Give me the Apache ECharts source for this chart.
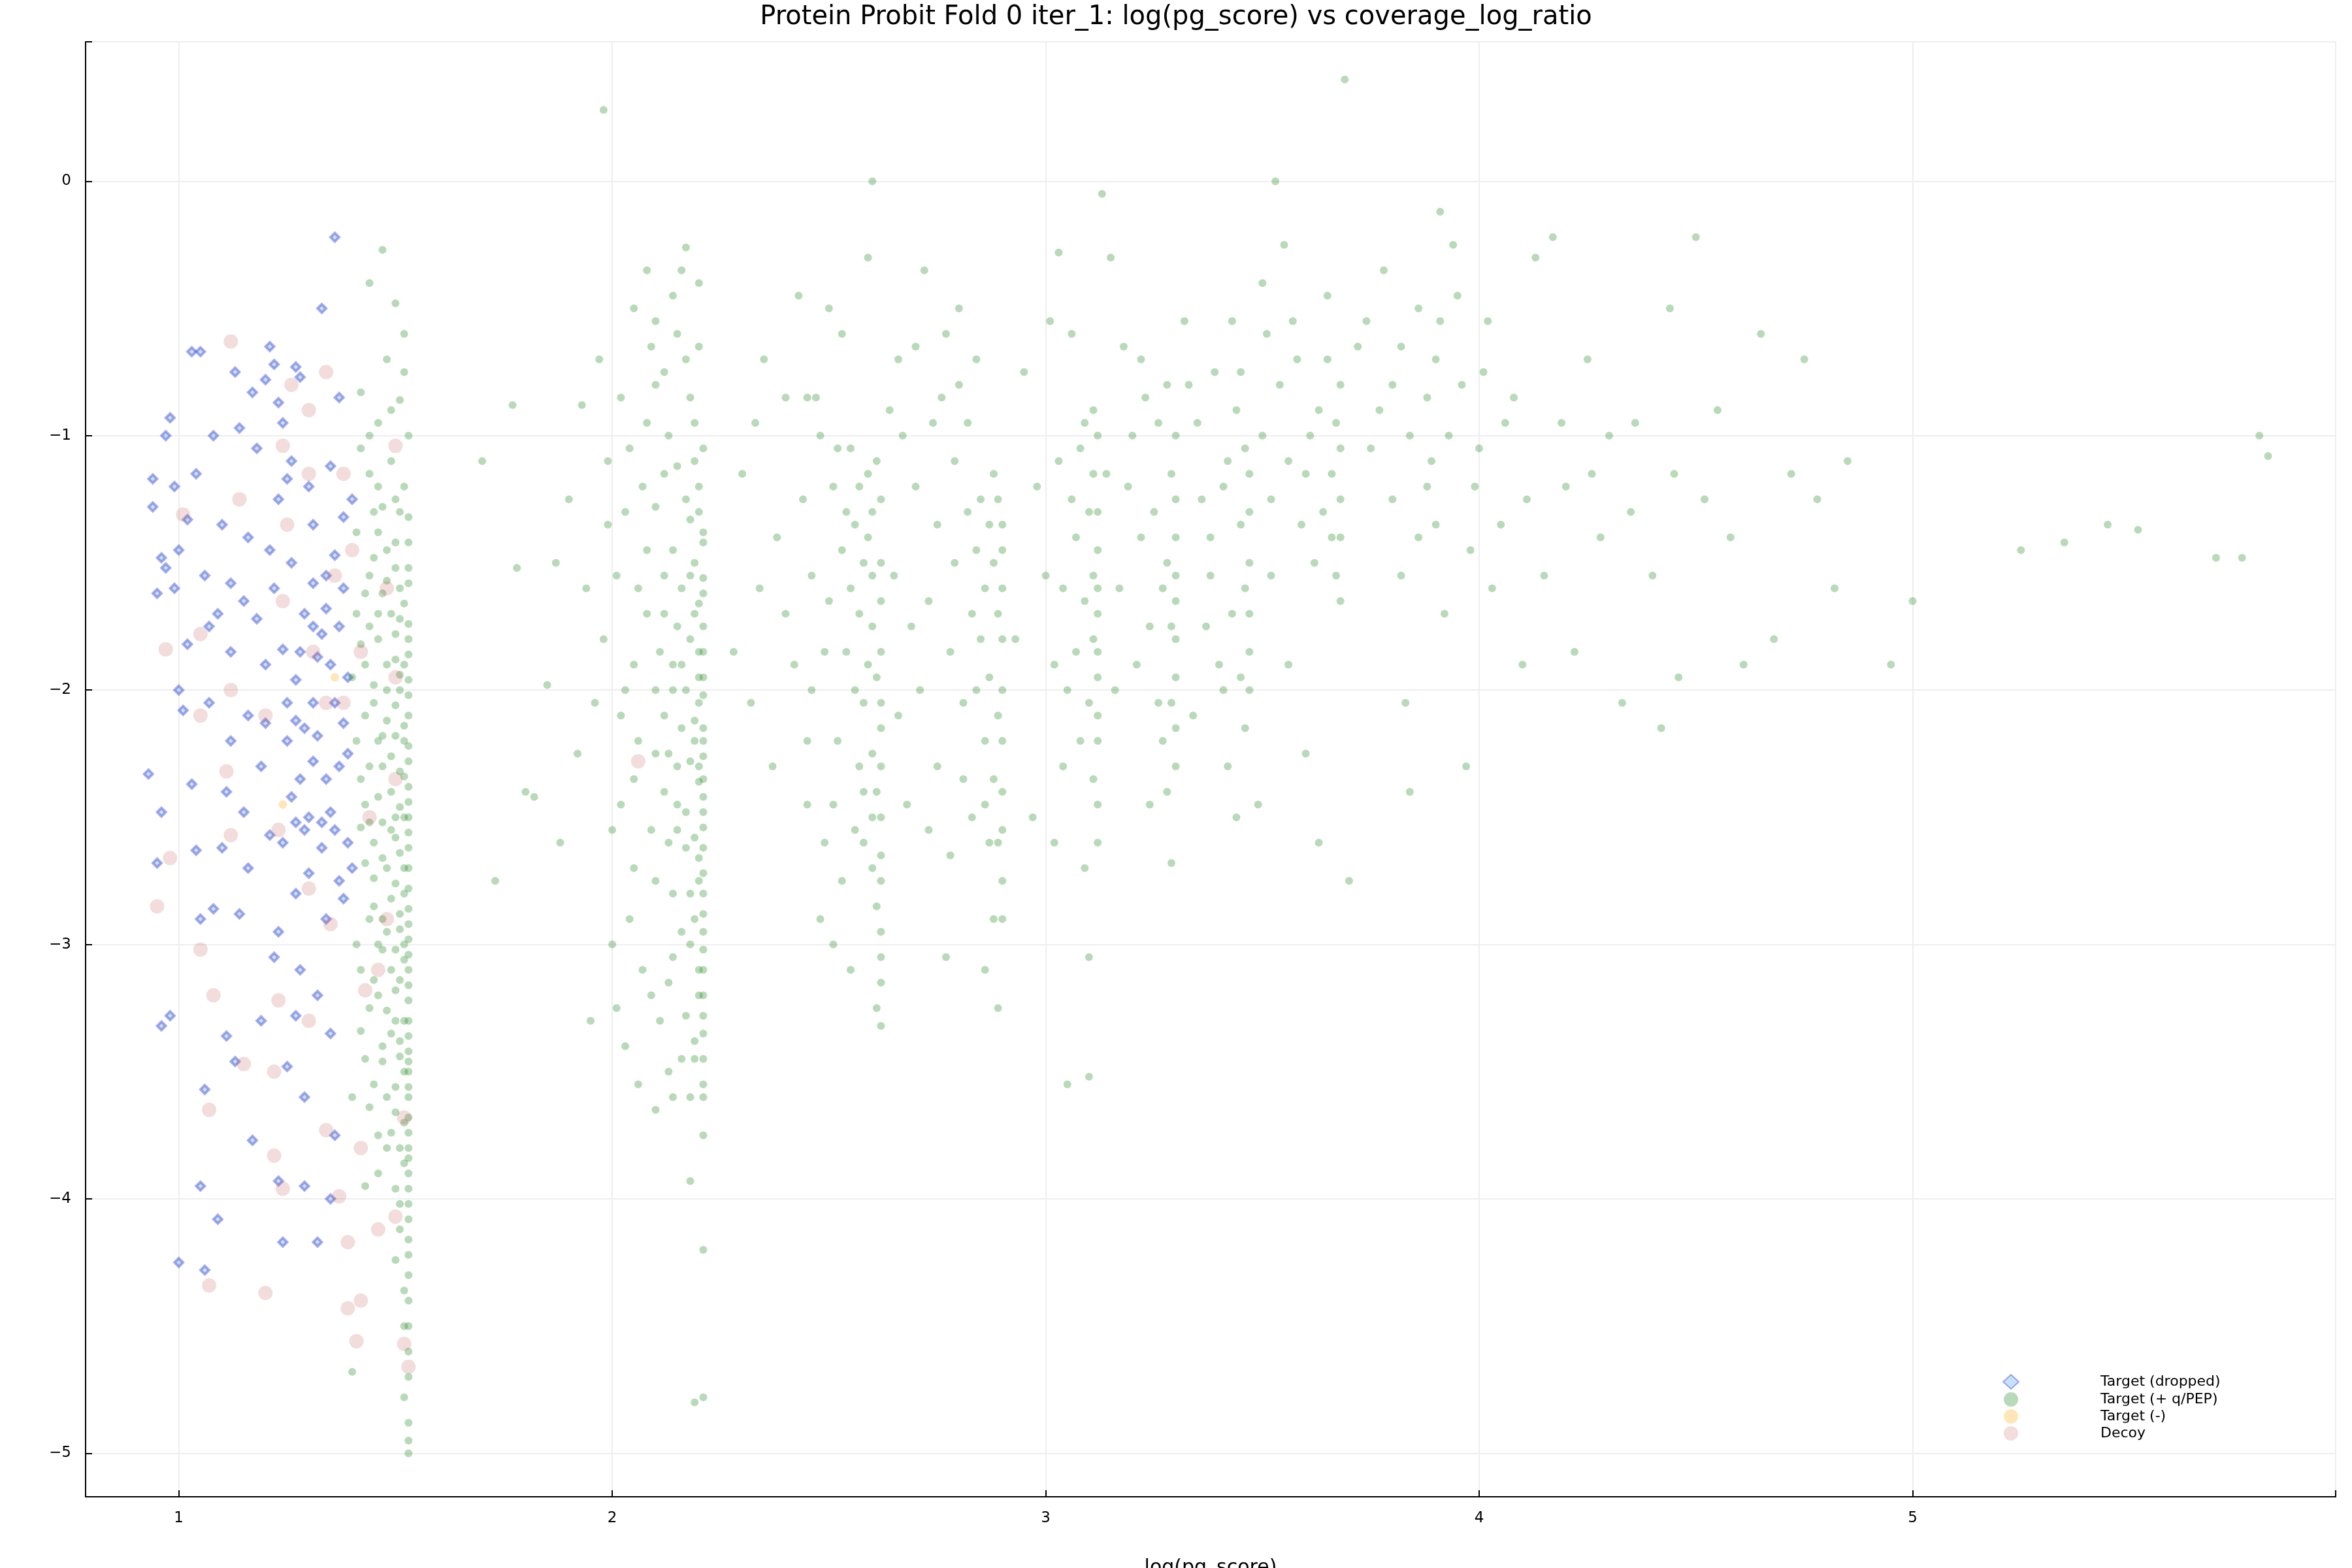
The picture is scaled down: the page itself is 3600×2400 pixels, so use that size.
<!DOCTYPE html>
<html><head><meta charset="utf-8">
<script src="https://cdn.jsdelivr.net/npm/echarts@6/dist/echarts.min.js"></script>
<style>html,body{margin:0;padding:0;background:#fff}#c{width:3600px;height:2400px}</style>
</head><body><div id="c"></div>
<script>
const titleText = "Protein Probit Fold 0 iter_1: log(pg_score) vs coverage_log_ratio";
const xLabel = "log(pg_score)";
const legendNames = ["Target (dropped)", "Target (+ q/PEP)", "Target (-)", "Decoy"];

const dropped = [
[0.94,-1.17],[0.95,-1.62],[0.96,-2.48],[0.97,-1.0],[0.98,-0.93],[0.94,-1.28],[0.96,-1.48],[0.97,-1.52],[0.99,-1.2],[1.0,-1.45],
[1.02,-1.33],[1.03,-0.67],[1.05,-0.67],[1.04,-1.15],[1.06,-1.55],[1.07,-1.75],[1.08,-1.0],[1.1,-1.35],[1.12,-1.58],[1.13,-0.75],
[1.14,-0.97],[1.15,-1.65],[1.16,-1.4],[1.17,-0.83],[1.18,-1.05],[1.2,-0.78],[1.21,-0.65],[1.22,-0.72],[1.23,-0.87],[1.24,-0.95],
[1.25,-1.17],[1.27,-0.73],[1.28,-0.77],[1.3,-1.2],[1.31,-1.35],[1.33,-0.5],[1.35,-1.12],[1.36,-0.22],[1.37,-0.85],[1.38,-1.6],
[0.93,-2.33],[0.95,-2.68],[0.96,-3.32],[0.98,-3.28],[1.0,-2.0],[1.01,-2.08],[1.03,-2.37],[1.04,-2.63],[1.05,-2.9],[1.06,-3.57],
[1.05,-3.95],[1.08,-2.86],[1.1,-2.62],[1.11,-3.36],[1.12,-2.2],[1.13,-3.46],[1.15,-2.48],[1.16,-2.7],[1.17,-3.77],[1.19,-3.3],
[1.2,-2.13],[1.21,-2.57],[1.22,-3.05],[1.23,-3.93],[1.24,-4.17],[1.25,-2.2],[1.26,-2.42],[1.27,-2.8],[1.28,-3.1],[1.29,-3.6],
[1.3,-2.5],[1.31,-2.05],[1.32,-1.87],[1.33,-2.52],[1.34,-2.9],[1.35,-3.35],[1.36,-3.75],[1.37,-2.75],[1.38,-2.13],[1.39,-1.95],
[1.18,-1.72],[1.2,-1.9],[1.22,-1.6],[1.24,-1.84],[1.26,-1.5],[1.27,-1.96],[1.29,-1.7],[1.31,-1.58],[1.33,-1.78],[1.35,-1.9],
[1.36,-1.47],[1.38,-1.32],[1.39,-2.6],[1.3,-2.72],[1.32,-3.2],[1.34,-2.35],[1.36,-2.55],[1.27,-3.28],[1.25,-3.48],[1.23,-2.95],
[1.14,-2.88],[1.09,-4.08],[1.06,-4.28],[1.0,-4.25],[1.32,-4.17],[1.29,-3.95],[1.35,-4.0],[1.4,-2.7],[1.4,-1.25],[1.27,-2.12],
[1.19,-2.3],[1.24,-2.6],[1.28,-2.35],[1.32,-2.18],[1.36,-2.05],[1.12,-1.85],[1.09,-1.7],[1.07,-2.05],[1.02,-1.82],[0.99,-1.6],
[1.26,-1.1],[1.23,-1.25],[1.21,-1.45],[1.34,-1.55],[1.37,-1.75],[1.39,-2.25],[1.29,-2.55],[1.16,-2.1],[1.11,-2.4],[1.27,-2.52],
[1.33,-2.62],[1.35,-2.48],[1.31,-2.28],[1.29,-2.15],[1.25,-2.05],[1.28,-1.85],[1.31,-1.75],[1.34,-1.68],[1.37,-2.3],[1.38,-2.82]
];

const negTargets = [[1.24,-2.45],[1.36,-1.95]];

const decoys = [
[1.12,-0.63],[1.34,-0.75],[1.26,-0.8],[1.3,-0.9],[1.24,-1.04],[1.5,-1.04],[1.38,-1.15],[1.3,-1.15],[1.14,-1.25],[1.01,-1.31],
[1.25,-1.35],[1.4,-1.45],[1.36,-1.55],[1.24,-1.65],[1.48,-1.6],[1.05,-1.78],[0.97,-1.84],[1.31,-1.85],[1.42,-1.85],[1.12,-2.0],
[1.5,-1.95],[1.34,-2.05],[1.05,-2.1],[1.2,-2.1],[1.38,-2.05],[1.11,-2.32],[1.5,-2.35],[1.23,-2.55],[1.44,-2.5],[1.12,-2.57],
[0.98,-2.66],[1.3,-2.78],[1.35,-2.92],[1.48,-2.9],[0.95,-2.85],[1.05,-3.02],[1.46,-3.1],[1.43,-3.18],[1.08,-3.2],[1.23,-3.22],
[1.3,-3.3],[1.15,-3.47],[1.22,-3.5],[1.52,-3.68],[1.07,-3.65],[1.34,-3.73],[1.42,-3.8],[1.22,-3.83],[1.24,-3.96],[1.37,-3.99],
[1.5,-4.07],[1.46,-4.12],[1.39,-4.17],[1.07,-4.34],[1.2,-4.37],[1.42,-4.4],[1.39,-4.43],[1.41,-4.56],[1.52,-4.57],[1.53,-4.66],[2.06,-2.28]
];

const greenA = [
[1.47,-0.27],[1.44,-0.4],[1.5,-0.48],[1.52,-0.6],[1.48,-0.7],[1.42,-0.83],[1.51,-0.86],[1.46,-0.95],[1.53,-1.0],[1.49,-1.1],
[1.44,-1.15],[1.52,-1.2],[1.47,-1.28],[1.53,-1.32],[1.41,-1.38],[1.5,-1.42],[1.45,-1.48],[1.53,-1.52],[1.48,-1.57],[1.43,-1.62],
[1.52,-1.66],[1.46,-1.7],[1.53,-1.74],[1.5,-1.78],[1.42,-1.82],[1.53,-1.86],[1.48,-1.9],[1.51,-1.94],[1.45,-1.98],[1.53,-2.02],
[1.5,-2.06],[1.43,-2.1],[1.52,-2.14],[1.47,-2.18],[1.53,-2.22],[1.49,-2.26],[1.44,-2.3],[1.52,-2.34],[1.53,-2.38],[1.46,-2.42],
[1.51,-2.46],[1.53,-2.5],[1.42,-2.54],[1.5,-2.58],[1.53,-2.62],[1.47,-2.66],[1.52,-2.7],[1.45,-2.74],[1.53,-2.78],[1.49,-2.82],
[1.53,-2.86],[1.44,-2.9],[1.51,-2.94],[1.53,-2.98],[1.47,-3.02],[1.52,-3.06],[1.53,-3.1],[1.45,-3.14],[1.5,-3.18],[1.53,-3.22],
[1.48,-3.26],[1.53,-3.3],[1.42,-3.34],[1.51,-3.38],[1.53,-3.42],[1.47,-3.46],[1.53,-3.5],[1.5,-3.56],[1.53,-3.6],[1.44,-3.64],
[1.53,-3.68],[1.49,-3.74],[1.53,-3.8],[1.52,-3.86],[1.46,-3.9],[1.53,-3.96],[1.51,-4.02],[1.53,-4.08],[1.53,-4.16],[1.5,-4.24],
[1.53,-4.3],[1.53,-4.4],[1.52,-4.5],[1.53,-4.6],[1.53,-4.7],[1.52,-4.78],[1.53,-4.88],[1.53,-4.95],[1.53,-5.0],[1.4,-4.68],
[1.41,-3.0],[1.43,-2.45],[1.41,-2.2],[1.4,-1.95],[1.44,-1.55],[1.41,-1.7],[1.46,-1.2],[1.42,-1.05],[1.4,-3.6],[1.43,-3.95],
[1.51,-1.6],[1.52,-1.9],[1.52,-2.2],[1.52,-2.5],[1.52,-2.8],[1.52,-3.0],[1.52,-3.3],[1.52,-3.5],[1.52,-3.7],[1.53,-3.9],
[1.48,-2.0],[1.49,-2.4],[1.48,-2.7],[1.49,-3.1],[1.47,-3.4],[1.46,-1.8],[1.47,-2.3],[1.45,-2.6],[1.46,-3.0],[1.48,-3.6],
[1.53,-1.42],[1.53,-1.58],[1.53,-1.8],[1.53,-1.96],[1.53,-2.1],[1.53,-2.28],[1.53,-2.44],[1.53,-2.56],[1.53,-2.7],[1.53,-2.92],
[1.53,-3.04],[1.53,-3.16],[1.53,-3.36],[1.53,-3.46],[1.53,-3.56],[1.53,-3.74],[1.53,-3.84],[1.53,-4.02],[1.53,-4.22],[1.53,-4.5],
[1.51,-1.3],[1.5,-1.52],[1.51,-1.72],[1.5,-1.88],[1.51,-2.0],[1.5,-2.18],[1.51,-2.32],[1.5,-2.5],[1.51,-2.64],[1.5,-2.76],
[1.51,-2.88],[1.5,-3.02],[1.51,-3.14],[1.5,-3.3],[1.51,-3.44],[1.5,-3.66],[1.51,-3.8],[1.5,-3.96],[1.51,-4.12],[1.52,-4.36],
[1.46,-1.38],[1.44,-1.75],[1.43,-1.9],[1.45,-2.05],[1.42,-2.35],[1.44,-2.52],[1.43,-2.68],[1.45,-2.85],[1.42,-3.1],[1.44,-3.25],
[1.43,-3.45],[1.45,-3.55],[1.46,-3.75],[1.44,-1.0],[1.49,-0.9],[1.52,-0.75],[1.5,-1.25],[1.48,-1.45],[1.49,-1.7],[1.48,-2.12],
[1.49,-2.55],[1.48,-2.95],[1.49,-3.35],[1.48,-3.8],[1.47,-2.52],[1.47,-2.9],[1.46,-3.2],[1.46,-2.2],[1.47,-1.62],[1.45,-1.3]
];

const greenB = [
[2.2,-0.4],[2.17,-0.26],[2.14,-0.45],[2.1,-0.55],[2.2,-0.65],[2.12,-0.75],[2.18,-0.85],[2.08,-0.95],[2.21,-1.05],[2.15,-1.12],
[2.2,-1.2],[2.1,-1.28],[2.18,-1.33],[2.21,-1.38],[2.14,-1.45],[2.19,-1.5],[2.21,-1.56],[2.16,-1.6],[2.2,-1.66],[2.12,-1.7],
[2.21,-1.75],[2.18,-1.8],[2.2,-1.85],[2.14,-1.9],[2.21,-1.95],[2.17,-2.0],[2.2,-2.05],[2.12,-2.1],[2.21,-2.15],[2.19,-2.2],
[2.21,-2.26],[2.15,-2.3],[2.2,-2.36],[2.21,-2.42],[2.17,-2.48],[2.21,-2.54],[2.13,-2.6],[2.2,-2.66],[2.21,-2.72],[2.18,-2.8],
[2.21,-2.88],[2.16,-2.95],[2.21,-3.02],[2.2,-3.1],[2.21,-3.2],[2.17,-3.28],[2.21,-3.35],[2.19,-3.45],[2.21,-3.55],[2.14,-3.6],
[2.21,-3.75],[2.21,-4.2],[2.21,-4.78],[2.19,-4.8],[2.18,-3.93],[2.1,-3.65],[2.06,-3.55],[2.03,-3.4],[2.07,-3.1],[2.04,-2.9],
[2.0,-2.55],[2.05,-2.35],[2.02,-2.1],[1.98,-1.8],[2.01,-1.55],[2.03,-1.3],[1.99,-1.1],[2.02,-0.85],[1.97,-0.7],[2.05,-0.5],
[1.98,0.28],[1.93,-0.88],[1.9,-1.25],[1.87,-1.5],[1.85,-1.98],[1.92,-2.25],[1.88,-2.6],[1.95,-3.3],[1.8,-2.4],[1.77,-0.88],
[1.7,-1.1],[1.73,-2.75],[1.78,-1.52],[1.82,-2.42],[2.08,-1.7],[2.1,-2.0],[2.12,-2.4],[2.1,-2.75],[2.14,-3.05],[2.08,-1.45],
[2.13,-1.0],[2.09,-0.65],[2.16,-0.35],[2.06,-2.2],[2.11,-3.3],[2.15,-2.55],[2.17,-1.25],[2.19,-0.95],[2.05,-1.9],[2.0,-3.0],
[2.21,-1.42],[2.21,-1.62],[2.21,-1.85],[2.21,-2.02],[2.21,-2.2],[2.21,-2.35],[2.21,-2.48],[2.21,-2.62],[2.21,-2.8],[2.21,-2.95],
[2.21,-3.1],[2.21,-3.28],[2.21,-3.45],[2.21,-3.6],[2.2,-1.3],[2.19,-1.7],[2.2,-1.95],[2.19,-2.12],[2.2,-2.3],[2.19,-2.58],
[2.2,-2.75],[2.19,-2.9],[2.2,-3.2],[2.19,-3.38],[2.18,-1.55],[2.18,-2.28],[2.17,-2.62],[2.18,-3.0],[2.16,-1.9],[2.16,-2.15],
[2.15,-1.75],[2.14,-2.0],[2.13,-2.25],[2.15,-2.45],[2.14,-2.8],[2.13,-3.15],[2.12,-1.55],[2.11,-1.85],[2.1,-2.25],[2.09,-2.55],
[2.07,-1.2],[2.06,-1.6],[2.05,-2.7],[2.04,-1.05],[2.03,-2.0],[2.02,-2.45],[2.01,-3.25],[1.99,-1.35],[1.96,-2.05],[1.94,-1.6],
[2.08,-0.35],[2.1,-0.8],[2.12,-1.15],[2.15,-0.6],[2.17,-0.7],[2.19,-1.1],[2.16,-3.45],[2.18,-3.6],[2.13,-3.5],[2.09,-3.2]
];

const greenC = [
[2.3,-1.15],[2.33,-0.95],[2.35,-0.7],[2.38,-1.4],[2.4,-1.7],[2.42,-1.9],[2.45,-2.2],[2.47,-0.85],[2.48,-2.9],[2.43,-0.45],
[2.5,-0.5],[2.52,-1.05],[2.54,-1.3],[2.55,-1.6],[2.56,-2.0],[2.57,-2.3],[2.58,-2.6],[2.59,-0.3],[2.6,-0.0],[2.61,-1.1],
[2.62,-1.5],[2.6,-1.75],[2.61,-1.95],[2.62,-2.15],[2.61,-2.4],[2.62,-2.65],[2.61,-2.85],[2.62,-3.05],[2.61,-3.25],[2.62,-3.32],
[2.57,-1.2],[2.59,-1.4],[2.6,-2.5],[2.58,-2.05],[2.55,-3.1],[2.53,-2.75],[2.51,-2.45],[2.49,-1.85],[2.46,-1.55],[2.44,-1.25],
[2.66,-0.7],[2.7,-1.2],[2.73,-1.65],[2.75,-2.3],[2.77,-3.05],[2.72,-0.35],[2.8,-0.5],[2.82,-0.95],[2.84,-1.45],[2.85,-1.8],
[2.86,-2.2],[2.87,-2.6],[2.88,-2.9],[2.89,-3.25],[2.9,-1.35],[2.9,-1.6],[2.9,-2.0],[2.9,-2.4],[2.9,-2.75],[2.88,-1.15],
[2.84,-0.7],[2.83,-2.5],[2.81,-2.05],[2.79,-1.5],[2.76,-0.85],[2.78,-2.65],[2.86,-3.1],[2.71,-2.0],[2.68,-2.45],[2.65,-1.55],
[2.62,-1.25],[2.62,-1.65],[2.62,-1.85],[2.62,-2.05],[2.62,-2.3],[2.62,-2.5],[2.62,-2.75],[2.62,-2.95],[2.62,-3.15],[2.6,-1.3],
[2.6,-1.55],[2.6,-2.25],[2.6,-2.7],[2.59,-1.15],[2.59,-1.9],[2.58,-1.5],[2.58,-2.4],[2.57,-1.7],[2.56,-1.35],[2.56,-2.55],
[2.55,-1.05],[2.54,-1.85],[2.53,-1.45],[2.52,-2.2],[2.51,-1.2],[2.5,-1.65],[2.49,-2.6],[2.48,-1.0],[2.46,-2.0],[2.45,-0.85],
[2.9,-1.45],[2.9,-1.8],[2.9,-2.2],[2.9,-2.55],[2.9,-2.9],[2.89,-1.25],[2.89,-1.7],[2.89,-2.1],[2.89,-2.6],[2.88,-1.5],
[2.88,-2.35],[2.87,-1.35],[2.87,-1.95],[2.86,-1.6],[2.86,-2.45],[2.85,-1.25],[2.84,-2.0],[2.83,-1.7],[2.82,-1.3],[2.81,-2.35],
[2.8,-0.8],[2.79,-1.1],[2.78,-1.85],[2.77,-0.6],[2.75,-1.35],[2.74,-0.95],[2.73,-2.55],[2.7,-0.65],[2.69,-1.75],[2.67,-1.0],
[2.64,-0.9],[2.66,-2.1],[2.53,-0.6],[2.51,-3.0],[2.45,-2.45],[2.4,-0.85],[2.37,-2.3],[2.34,-1.6],[2.32,-2.05],[2.28,-1.85]
];

const greenD = [
[2.95,-0.75],[2.98,-1.2],[3.0,-1.55],[3.02,-1.9],[3.03,-0.28],[3.04,-2.3],[3.05,-3.55],[3.06,-0.6],[3.08,-1.05],[3.09,-2.7],
[3.1,-3.05],[3.1,-3.52],[3.11,-0.9],[3.12,-1.3],[3.12,-1.6],[3.12,-1.85],[3.12,-2.1],[3.11,-2.35],[3.12,-2.6],[3.13,-0.05],
[3.15,-0.3],[3.18,-0.65],[3.2,-1.0],[3.22,-1.4],[3.24,-1.75],[3.26,-2.05],[3.28,-2.4],[3.29,-2.68],[3.3,-1.25],[3.3,-1.55],
[3.3,-1.8],[3.3,-2.15],[3.28,-0.8],[3.32,-0.55],[3.35,-0.95],[3.38,-1.4],[3.4,-1.9],[3.42,-2.3],[3.44,-2.5],[3.46,-1.05],
[3.47,-1.3],[3.47,-1.7],[3.47,-2.0],[3.45,-0.75],[3.43,-0.55],[3.5,-0.4],[3.53,0.0],[3.55,-0.25],[3.58,-0.7],[3.6,-1.15],
[3.62,-1.5],[3.6,-2.25],[3.65,-0.45],[3.67,-0.95],[3.68,-1.25],[3.68,-1.65],[3.7,-2.75],[3.69,0.4],[3.72,-0.65],[3.75,-1.05],
[3.78,-0.35],[3.8,-0.8],[3.82,-1.55],[3.83,-2.05],[3.84,-2.4],[3.86,-0.5],[3.88,-1.2],[3.9,-0.7],[3.91,-0.12],[3.92,-1.7],
[3.95,-0.45],[3.97,-2.3],[3.98,-1.45],[4.0,-1.05],[4.02,-0.55],[4.05,-1.35],[4.08,-0.85],[4.1,-1.9],[4.13,-0.3],[4.15,-1.55],
[4.17,-0.22],[4.2,-1.2],[4.22,-1.85],[4.25,-0.7],[4.28,-1.4],[4.3,-1.0],[4.33,-2.05],[4.36,-0.95],[4.4,-1.55],[4.42,-2.15],
[4.44,-0.5],[4.46,-1.95],[4.5,-0.22],[4.52,-1.25],[4.55,-0.9],[4.58,-1.4],[4.61,-1.9],[4.65,-0.6],[4.68,-1.8],[4.72,-1.15],
[4.75,-0.7],[4.78,-1.25],[4.82,-1.6],[4.85,-1.1],[4.95,-1.9],[5.0,-1.65],[5.25,-1.45],[5.35,-1.42],[5.45,-1.35],[5.52,-1.37],
[5.7,-1.48],[5.76,-1.48],[5.8,-1.0],[5.82,-1.08],[2.93,-1.8],[2.97,-2.5],[3.01,-0.55],[3.07,-1.4],[3.14,-1.15],[3.16,-2.0],
[3.23,-0.85],[3.27,-1.6],[3.34,-2.1],[3.37,-1.75],[3.41,-1.2],[3.49,-2.45],[3.52,-1.55],[3.56,-1.9],[3.63,-2.6],[3.66,-1.4],
[3.12,-1.0],[3.12,-1.45],[3.12,-1.7],[3.12,-1.95],[3.12,-2.2],[3.12,-2.45],[3.11,-1.15],[3.11,-1.55],[3.11,-1.8],[3.1,-2.05],
[3.1,-1.3],[3.09,-1.65],[3.09,-0.95],[3.08,-2.2],[3.07,-1.85],[3.06,-1.25],[3.05,-2.0],[3.04,-1.6],[3.03,-1.1],[3.02,-2.6],
[3.3,-1.0],[3.3,-1.4],[3.3,-1.65],[3.3,-1.95],[3.3,-2.3],[3.29,-1.15],[3.29,-1.75],[3.29,-2.05],[3.28,-1.5],[3.27,-2.2],
[3.26,-0.95],[3.25,-1.3],[3.24,-2.45],[3.22,-0.7],[3.21,-1.9],[3.19,-1.2],[3.17,-1.6],[3.47,-1.15],[3.47,-1.5],[3.47,-1.85],
[3.46,-2.15],[3.46,-1.6],[3.45,-1.35],[3.45,-1.95],[3.44,-0.9],[3.43,-1.7],[3.42,-1.1],[3.41,-2.0],[3.39,-0.75],[3.38,-1.55],
[3.36,-1.25],[3.33,-0.8],[3.68,-1.05],[3.68,-1.4],[3.68,-0.8],[3.67,-1.55],[3.66,-1.15],[3.65,-0.7],[3.64,-1.3],[3.63,-0.9],
[3.61,-1.0],[3.59,-1.35],[3.57,-0.55],[3.56,-1.1],[3.54,-0.8],[3.52,-1.25],[3.51,-0.6],[3.5,-1.0],[3.74,-0.55],[3.77,-0.9],
[3.8,-1.25],[3.82,-0.65],[3.84,-1.0],[3.86,-1.4],[3.88,-0.85],[3.89,-1.1],[3.9,-1.35],[3.91,-0.55],[3.93,-1.0],[3.94,-0.25],
[3.96,-0.8],[3.99,-1.2],[4.01,-0.75],[4.03,-1.6],[4.06,-0.95],[4.11,-1.25],[4.19,-0.95],[4.26,-1.15],[4.35,-1.3],[4.45,-1.15]
];

const green = greenA.concat(greenB, greenC, greenD);

const chart = echarts.init(document.getElementById('c'));
const axisCommon = {
  axisLine:{show:true,onZero:false,lineStyle:{color:'#000',width:2}},
  axisTick:{show:true,inside:true,length:10,lineStyle:{color:'#000',width:2}},
  axisLabel:{color:'#000',fontSize:23,fontFamily:'DejaVu Sans',margin:22},
  splitLine:{show:true,lineStyle:{color:'#eeeeee',width:2}}
};
chart.setOption({
  animation:false,
  backgroundColor:'#fff',
  title:{text:titleText,left:'center',top:2,textStyle:{fontSize:40,fontWeight:'normal',fontFamily:'DejaVu Sans',color:'#000'}},
  grid:{left:131,right:25,top:64,bottom:109,outerBoundsMode:'none',containLabel:false},
  xAxis:Object.assign({type:'value',min:0.785,max:5.976,name:xLabel,nameLocation:'middle',nameGap:94,
    nameTextStyle:{fontSize:30,fontFamily:'DejaVu Sans',color:'#000'}},axisCommon,
    {axisLabel:Object.assign({},axisCommon.axisLabel,{formatter:v=>Number.isInteger(v)?String(v):''})}),
  yAxis:Object.assign({type:'value',min:-5.171,max:0.548},axisCommon,
    {axisLabel:Object.assign({},axisCommon.axisLabel,{formatter:v=>Number.isInteger(v)?(v<0?'\u2212'+(-v):String(v)):''})}),
  legend:{show:true,left:3060,top:2098,orient:'vertical',itemGap:4,itemWidth:24,itemHeight:22,
    textStyle:{fontSize:22,fontFamily:'DejaVu Sans',color:'#000',padding:[0,0,0,120]},data:legendNames},
  series:[
    {name:legendNames[0],type:'scatter',symbol:'diamond',symbolSize:13,data:dropped,
      itemStyle:{color:'rgba(135,190,250,0.6)',borderColor:'rgba(40,50,200,0.5)',borderWidth:4}},
    {name:legendNames[1],type:'scatter',symbol:'circle',symbolSize:12,data:green,
      itemStyle:{color:'rgba(34,139,34,0.4)'}},
    {name:legendNames[2],type:'scatter',symbol:'circle',symbolSize:13,data:negTargets,
      itemStyle:{color:'rgba(255,165,0,0.35)'}},
    {name:legendNames[3],type:'scatter',symbol:'circle',symbolSize:22,data:decoys,
      itemStyle:{color:'rgba(190,80,80,0.25)'}}
  ]
});
</script></body></html>
